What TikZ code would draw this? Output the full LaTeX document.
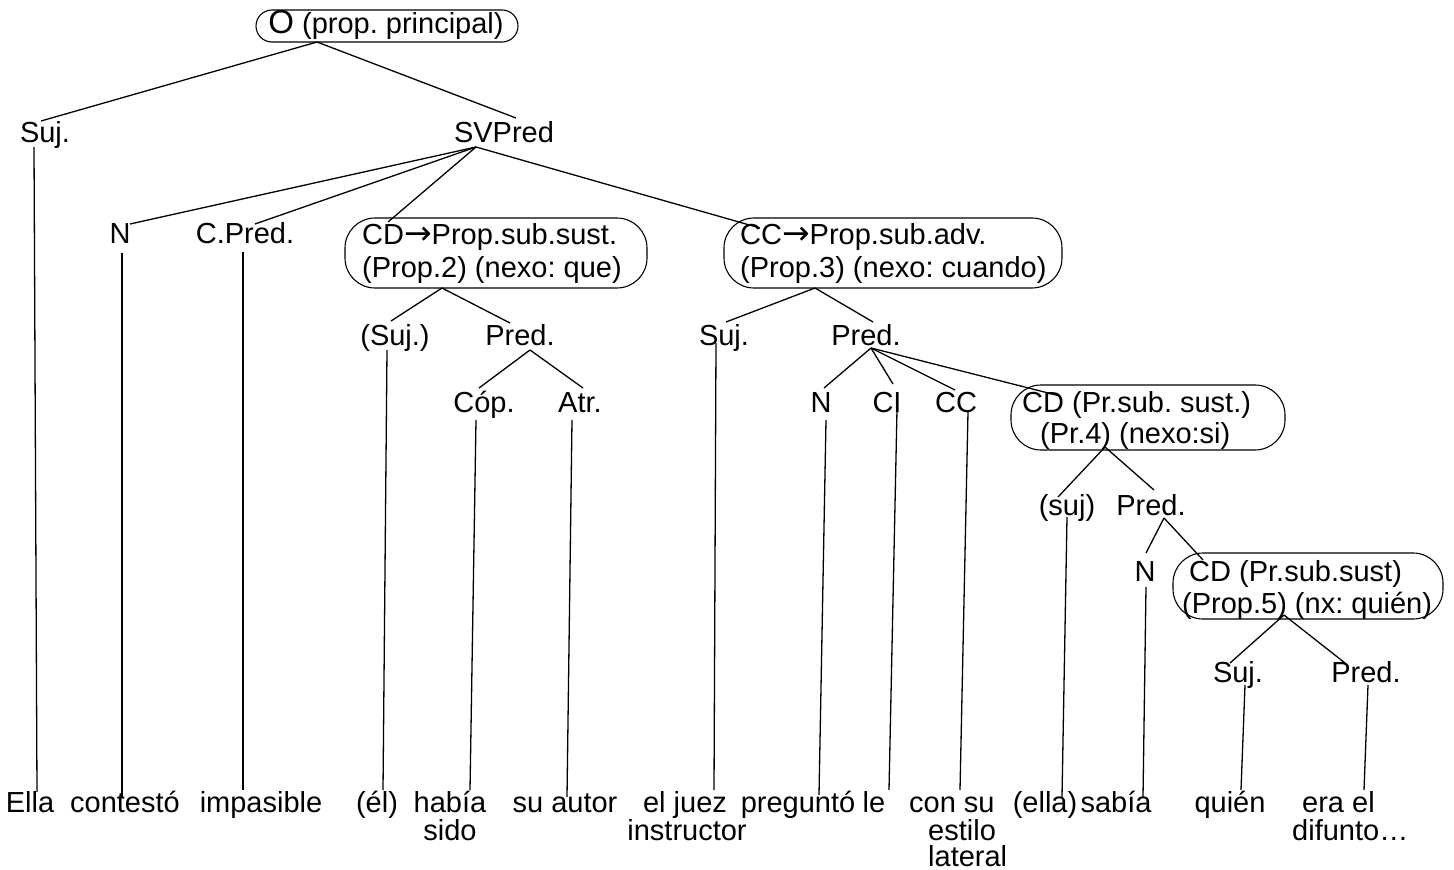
\documentclass[tikz,border=0pt]{standalone}
\usepackage{fontspec}
\setmainfont{Liberation Sans}
\newfontfamily\djv{DejaVu Sans}
\frenchspacing
\newcommand{\arr}{{\fontsize{33}{33}\djv →}}
\begin{document}
\begin{tikzpicture}[x=1pt,y=-1pt,
  lbl/.style={inner sep=0pt, anchor=base, font=\fontsize{29}{33}\selectfont},
  lbll/.style={lbl, anchor=base west},
  pbox/.style={draw, line width=1.1pt, inner sep=0pt, rounded corners=#1},
  conn/.style={line width=1.3pt}]
\useasboundingbox (0,0) rectangle (1454,870);

% ---- boxes
\node[pbox=16pt, minimum width=262pt, minimum height=32pt] (bO) at (387,26) {};
\node[pbox=30pt, minimum width=302pt, minimum height=70pt] (bCD) at (496,253) {};
\node[pbox=30pt, minimum width=338pt, minimum height=70pt] (bCC) at (893,253) {};
\node[pbox=30pt, minimum width=274pt, minimum height=65pt] (bCD4) at (1148,417.5) {};
\node[pbox=30pt, minimum width=270pt, minimum height=66pt] (bCD5) at (1308,586) {};

% ---- labels
\node[lbl] (tO) at (386,34) {{\fontsize{33}{33}\selectfont O} (prop. principal)};
\node[lbl] (Suj1) at (45,142) {Suj.};
\node[lbl] (SV) at (504,142) {SVPred};
\node[lbl] (N1) at (120,243) {N};
\node[lbl] (CP) at (245,243) {C.Pred.};
\node[lbll] (CDa) at (362,244) {CD\arr Prop.sub.sust.};
\node[lbll] (CDb) at (362,277) {(Prop.2) (nexo: que)};
\node[lbll] (CCa) at (740,244) {CC\arr Prop.sub.adv.};
\node[lbll] (CCb) at (740,277) {(Prop.3) (nexo: cuando)};
\node[lbl] (Suj2) at (395,345) {(Suj.)};
\node[lbl] (Pred2) at (520,345) {Pred.};
\node[lbl] (Suj3) at (724,345) {Suj.};
\node[lbl] (Pred3) at (866,345) {Pred.};
\node[lbl] (Cop) at (484,412) {Cóp.};
\node[lbl] (Atr) at (580,412) {Atr.};
\node[lbl] (N3) at (821,412) {N};
\node[lbl] (CI) at (887,412) {CI};
\node[lbl] (CC3) at (956,412) {CC};
\node[lbll] (CD4a) at (1022,412) {CD (Pr.sub. sust.)};
\node[lbll] (CD4b) at (1040,443) {(Pr.4) (nexo:si)};
\node[lbl] (suj4) at (1067,515) {(suj)};
\node[lbl] (Pred4) at (1151,515) {Pred.};
\node[lbl] (N5) at (1145,581) {N};
\node[lbll] (CD5a) at (1189,581) {CD (Pr.sub.sust)};
\node[lbll] (CD5b) at (1182,613) {(Prop.5) (nx: quién)};
\node[lbl] (Suj6) at (1238,682) {Suj.};
\node[lbl] (Pred6) at (1366,682) {Pred.};

% ---- bottom words
\node[lbl] (w1) at (30,812) {Ella};
\node[lbl] (w2) at (125,812) {contestó};
\node[lbl] (w3) at (261,812) {impasible};
\node[lbl] (w4) at (377,812) {(él)};
\node[lbl] (w5a) at (450,812) {había};
\node[lbl] (w5b) at (450,840) {sido};
\node[lbl] (w6) at (565,812) {su autor};
\node[lbl] (w7a) at (685,812) {el juez};
\node[lbl] (w7b) at (687,840) {instructor};
\node[lbl] (w8) at (798,812) {preguntó};
\node[lbl] (w9) at (874,812) {le};
\node[lbll] (w10a) at (909,812) {con su};
\node[lbll] (w10b) at (928,840) {estilo};
\node[lbll] (w10c) at (928,866) {lateral};
\node[lbl] (w11) at (1045,812) {(ella)};
\node[lbl] (w12) at (1116,812) {sabía};
\node[lbl] (w13) at (1230,812) {quién};
\node[lbll] (w14a) at (1302,812) {era el};
\node[lbll] (w14b) at (1292,840) {difunto…};

% ---- junction / end coordinates
\coordinate (jTop) at (317,42);
\coordinate (tSuj) at (41,121);
\coordinate (tSV) at (516,118);
\coordinate (jSV) at (476,147);
\coordinate (tN1) at (130,224);
\coordinate (tCP) at (255,224);
\coordinate (tCD) at (388,222);
\coordinate (tCC) at (760,228);
\coordinate (jCD) at (442,288);
\coordinate (tSuj2) at (391,321);
\coordinate (tPred2) at (510,323);
\coordinate (jPred2) at (530,350);
\coordinate (tCop) at (479,388);
\coordinate (tAtr) at (583,388);
\coordinate (jCC) at (815,288);
\coordinate (tSuj3) at (726,322);
\coordinate (tPred3) at (873,322);
\coordinate (jPred3) at (871,348);
\coordinate (tN3) at (824,388);
\coordinate (tCI) at (893,384);
\coordinate (tCC3) at (955,390);
\coordinate (tCD4) at (1060,396);
\coordinate (jCD4) at (1105,447);
\coordinate (tsuj4) at (1058,497);
\coordinate (tPred4) at (1154,490);
\coordinate (jPred4) at (1164,518);
\coordinate (tN5) at (1146,553);
\coordinate (tCD5) at (1203,560);
\coordinate (jCD5) at (1284,615);
\coordinate (tSuj6) at (1230,663);
\coordinate (tPred6) at (1345,663);

\coordinate (s1t) at (34,147);   \coordinate (s1b) at (37,792);
\coordinate (s2t) at (122,253);  \coordinate (s2b) at (122,797);
\coordinate (s3t) at (243,252);  \coordinate (s3b) at (243,790);
\coordinate (s4t) at (387,350);  \coordinate (s4b) at (383,790);
\coordinate (s5t) at (476,420);  \coordinate (s5b) at (470,790);
\coordinate (s6t) at (572,420);  \coordinate (s6b) at (567,797);
\coordinate (s7t) at (716,343);  \coordinate (s7b) at (714,790);
\coordinate (s8t) at (826,420);  \coordinate (s8b) at (819,795);
\coordinate (s9t) at (897,410);  \coordinate (s9b) at (889,790);
\coordinate (s10t) at (968,412); \coordinate (s10b) at (960,790);
\coordinate (s11t) at (1067,517);\coordinate (s11b) at (1062,797);
\coordinate (s12t) at (1146,587);\coordinate (s12b) at (1143,797);
\coordinate (s13t) at (1245,685);\coordinate (s13b) at (1241,790);
\coordinate (s14t) at (1368,685);\coordinate (s14b) at (1364,790);

% ---- connectors
\draw[conn] (jTop) -- (tSuj);
\draw[conn] (jTop) -- (tSV);
\draw[conn] (jSV) -- (tN1);
\draw[conn] (jSV) -- (tCP);
\draw[conn] (jSV) -- (tCD);
\draw[conn] (jSV) -- (tCC);
\draw[conn] (jCD) -- (tSuj2);
\draw[conn] (jCD) -- (tPred2);
\draw[conn] (jPred2) -- (tCop);
\draw[conn] (jPred2) -- (tAtr);
\draw[conn] (jCC) -- (tSuj3);
\draw[conn] (jCC) -- (tPred3);
\draw[conn] (jPred3) -- (tN3);
\draw[conn] (jPred3) -- (tCI);
\draw[conn] (jPred3) -- (tCC3);
\draw[conn] (jPred3) -- (tCD4);
\draw[conn] (jCD4) -- (tsuj4);
\draw[conn] (jCD4) -- (tPred4);
\draw[conn] (jPred4) -- (tN5);
\draw[conn] (jPred4) -- (tCD5);
\draw[conn] (jCD5) -- (tSuj6);
\draw[conn] (jCD5) -- (tPred6);
\foreach \i in {1,...,14} { \draw[conn] (s\i t) -- (s\i b); }
\end{tikzpicture}
\end{document}
